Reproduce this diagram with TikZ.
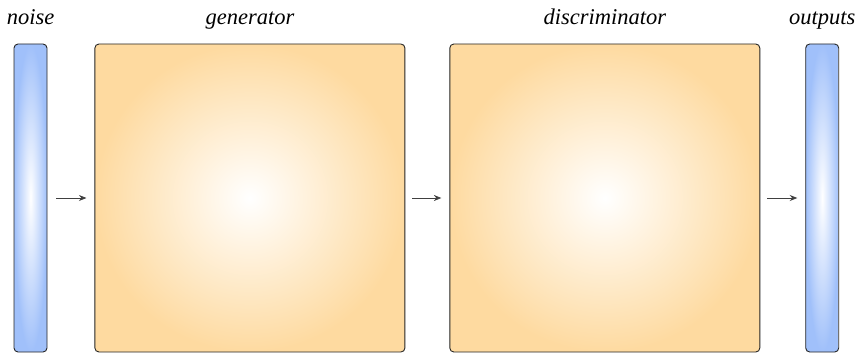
\documentclass[tikz,border=0pt]{standalone}
\usepackage{fontspec}
\setmainfont{Liberation Serif}
\usetikzlibrary{positioning,arrows.meta}
\definecolor{barblue}{RGB}{160,192,250}
\definecolor{boxorange}{RGB}{254,218,160}
\tikzset{
	>={Stealth[length=7.5pt,width=6pt]},
	dedge/.style={->, line width=0.8pt, black!75},
	bar/.style={rectangle, minimum width=33pt, minimum height=308pt, draw=black!85, line width=0.9pt, rounded corners=4pt, inner color=white, outer color=barblue, node distance=47pt},
	block/.style={rectangle, minimum width=310pt, minimum height=308pt, draw=black!85, line width=0.9pt, rounded corners=4pt, inner color=white, outer color=boxorange, node distance=44pt},
	lbl/.style={anchor=base, font=\itshape\fontsize{22.5pt}{26pt}\selectfont},
}

\begin{document}
\begin{tikzpicture}[x=1pt,y=-1pt]
	\useasboundingbox (0,0) rectangle (858,353);
	
	\node[bar] (noise) at (30.5,198) {};
	\node[block] (gen) [right=47pt of noise] {};
	\node[block] (disc) [right=44pt of gen] {};
	\node[bar] (out) [right=45pt of disc] {};
	
	\node[lbl] at ([yshift=19pt]noise.north) {noise};
	\node[lbl] at ([yshift=19pt]gen.north) {generator};
	\node[lbl] at ([yshift=19pt]disc.north) {discriminator};
	\node[lbl] at ([yshift=19pt]out.north) {outputs};
	
	\path (noise) edge [dedge, shorten <=9pt, shorten >=8pt] (gen);
	\path (gen) edge [dedge, shorten <=7pt, shorten >=8pt] (disc);
	\path (disc) edge [dedge, shorten <=7pt, shorten >=8pt] (out);
\end{tikzpicture}
\end{document}
